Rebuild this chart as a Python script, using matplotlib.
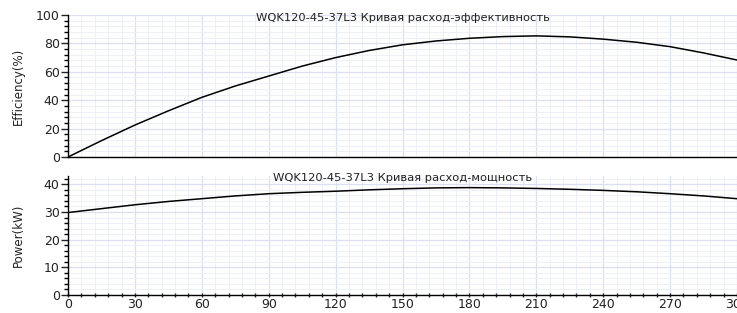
#!/usr/bin/env python3
import matplotlib
matplotlib.use('Agg')
from matplotlib import pyplot as plt
from matplotlib.ticker import MultipleLocator, AutoMinorLocator

# flow (m3/h) sample points
flow = [0, 15, 30, 45, 60, 75, 90, 105, 120, 135, 150,
        165, 180, 195, 210, 225, 240, 255, 270, 285, 300]
efficiency = [0, 11.5, 22.5, 32.5, 42, 50, 57, 64, 70, 75, 79,
              81.7, 83.6, 84.8, 85.3, 84.6, 83, 80.8, 77.7, 73.3, 68.3]
power = [29.8, 31.2, 32.6, 33.8, 34.8, 35.8, 36.6, 37.1, 37.5, 38.0, 38.4,
         38.7, 38.8, 38.7, 38.5, 38.2, 37.8, 37.3, 36.6, 35.8, 34.8]

title_eff = "WQK120-45-37L3 Кривая расход-эффективность"
title_pow = "WQK120-45-37L3 Кривая расход-мощность"

major_grid = '#dcdff0'
minor_grid = '#eef0f8'
text_col = '#222222'

fig = plt.figure(figsize=(7.37, 3.13), dpi=100)
ax1 = fig.add_axes([68 / 737, 1 - 157 / 313, 1 - 68 / 737, 142 / 313])
ax2 = fig.add_axes([68 / 737, 1 - 295 / 313, 1 - 68 / 737, 119 / 313])


def style(ax, ymax, ystep, show_x):
    ax.set_xlim(0, 300)
    ax.set_ylim(0, ymax)
    ax.xaxis.set_major_locator(MultipleLocator(30))
    ax.xaxis.set_minor_locator(AutoMinorLocator(5))
    ax.yaxis.set_major_locator(MultipleLocator(ystep))
    ax.yaxis.set_minor_locator(AutoMinorLocator(5))
    ax.grid(True, which='major', color=major_grid, lw=0.9)
    ax.grid(True, which='minor', color=minor_grid, lw=0.7)
    ax.set_axisbelow(True)
    ax.spines["top"].set_visible(False)
    ax.spines["right"].set_visible(False)
    ax.spines["left"].set_linewidth(1.0)
    ax.spines["bottom"].set_linewidth(1.0)
    ax.tick_params(axis='y', which='major', length=5, width=1, labelsize=9, pad=1, colors=text_col)
    ax.tick_params(axis='y', which='minor', length=3, width=1)
    if show_x:
        ax.tick_params(axis='x', which='both', direction='inout', length=3, width=1,
                       labelsize=9, pad=1, colors=text_col)
    else:
        ax.tick_params(axis='x', which='both', length=0, labelbottom=False)


style(ax1, 100, 20, False)
style(ax2, 43, 10, True)

ax1.plot(flow, efficiency, color='black', lw=1.1)
ax2.plot(flow, power, color='black', lw=1.1)

ax1.text(0.5, 0.982, title_eff, transform=ax1.transAxes, ha='center', va='center',
         fontsize=8.25, color=text_col)
ax2.text(0.5, 0.986, title_pow, transform=ax2.transAxes, ha='center', va='center',
         fontsize=8.25, color=text_col)

ax1.set_ylabel('Efficiency(%)', fontsize=8.5, color=text_col)
ax2.set_ylabel('Power(kW)', fontsize=8.5, color=text_col)
ax1.yaxis.set_label_coords(-0.064, 0.5)
ax2.yaxis.set_label_coords(-0.064, 0.5)

fig.savefig('out.png', dpi=100)
plt.close()
